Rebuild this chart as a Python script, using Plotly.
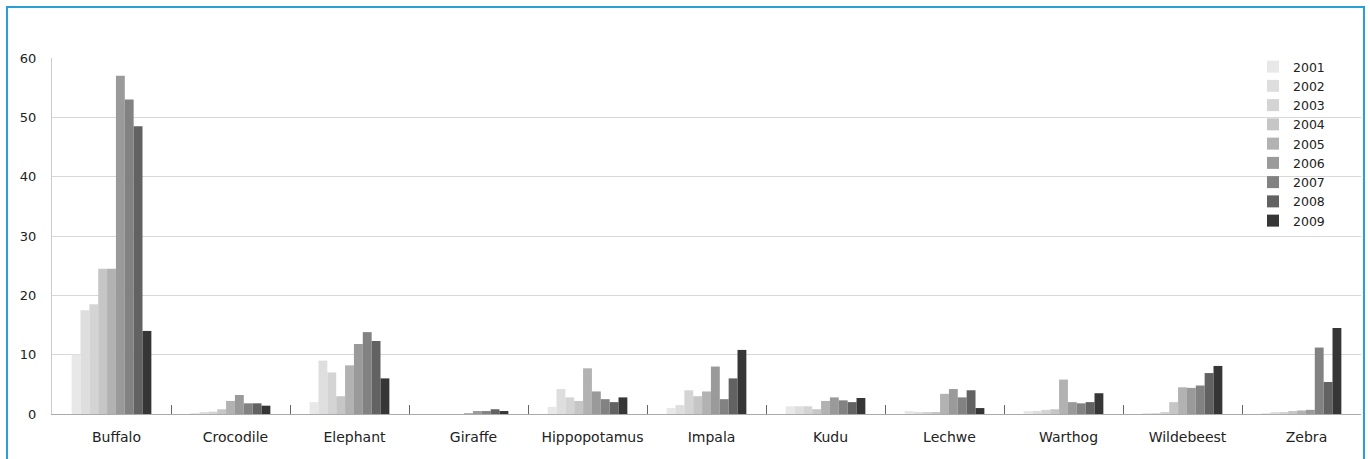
import plotly.graph_objects as go

categories = ["Buffalo", "Crocodile", "Elephant", "Giraffe", "Hippopotamus", "Impala",
              "Kudu", "Lechwe", "Warthog", "Wildebeest", "Zebra"]
years = ["2001", "2002", "2003", "2004", "2005", "2006", "2007", "2008", "2009"]

v2001 = [10.0, 0.1, 2.0, 0.0, 1.2, 1.0, 1.3, 0.5, 0.5, 0.1, 0.1]
v2002 = [17.5, 0.2, 9.0, 0.0, 4.2, 1.5, 1.3, 0.2, 0.5, 0.1, 0.2]
v2003 = [18.5, 0.4, 7.0, 0.0, 2.8, 4.0, 1.3, 0.2, 0.7, 0.3, 0.3]
v2004 = [24.5, 0.8, 3.0, 0.0, 2.2, 3.0, 0.8, 0.3, 0.8, 2.0, 0.5]
v2005 = [24.5, 2.2, 8.2, 0.1, 7.7, 3.8, 2.2, 3.4, 5.8, 4.5, 0.6]
v2006 = [57.0, 3.2, 11.8, 0.5, 3.8, 8.0, 2.8, 4.2, 2.0, 4.4, 0.7]
v2007 = [53.0, 1.8, 13.8, 0.5, 2.5, 2.5, 2.3, 2.8, 1.8, 4.8, 11.2]
v2008 = [48.5, 1.8, 12.3, 0.8, 2.0, 6.0, 2.0, 4.0, 2.0, 6.9, 5.4]
v2009 = [14.0, 1.4, 6.0, 0.5, 2.8, 10.8, 2.7, 1.0, 3.5, 8.1, 14.5]

series = [v2001, v2002, v2003, v2004, v2005, v2006, v2007, v2008, v2009]
colors = ["#e8e8e8", "#dedede", "#d4d4d4", "#c6c6c6", "#b2b2b2",
          "#9a9a9a", "#828282", "#626262", "#363636"]

fig = go.Figure()
for yr, vals, col in zip(years, series, colors):
    fig.add_trace(go.Bar(name=yr, x=categories, y=vals,
                         marker=dict(color=col, line=dict(width=0))))

W, H = 1370, 459
L, R, T, B = 52, 9, 58, 45
pw, ph = W - L - R, H - T - B


def px(x):
    return (x - L) / pw


def py(y):
    return (H - B - y) / ph


fig.update_layout(
    width=W, height=H,
    margin=dict(l=L, r=R, t=T, b=B),
    barmode="group", bargap=0.33, bargroupgap=0,
    paper_bgcolor="white", plot_bgcolor="white",
    font=dict(family="DejaVu Sans, sans-serif", size=13, color="#222"),
    showlegend=True,
    legend=dict(x=px(1253), y=py(52), xanchor="left", yanchor="top",
                bgcolor="rgba(255,255,255,0)", font=dict(size=12.5, color="#222"),
                tracegroupgap=0, itemwidth=30),
    xaxis=dict(showgrid=False, ticks="inside", ticklen=9, tickcolor="#666",
               tickson="boundaries", showline=True, linecolor="#aaa", linewidth=1,
               ticklabelshift=5, ticklabelstandoff=10,
               tickfont=dict(size=14, color="#222")),
    yaxis=dict(range=[0, 60], dtick=10, showgrid=True, gridcolor="#d8d8d8",
               showline=True, linecolor="#ccc", zeroline=False,
               ticks="", ticklabelstandoff=12,
               tickfont=dict(size=13, color="#222")),
    shapes=[dict(type="rect", xref="paper", yref="paper",
                 x0=px(7), x1=px(1364), y0=py(470), y1=py(7),
                 line=dict(color="#2a9fd6", width=2), fillcolor="rgba(0,0,0,0)")],
)

fig.write_html("out.html", config={"displayModeBar": False},
               post_script="document.body.style.margin='0';")
